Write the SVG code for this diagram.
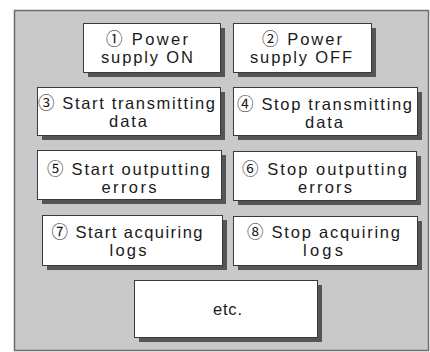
<svg xmlns="http://www.w3.org/2000/svg" width="430" height="352" viewBox="0 0 430 352">
  <defs>
    <style>
      .panel { fill: #c9c9c9; stroke: #6e6e6e; stroke-width: 1.5; }
      .shadow { fill: #555555; }
      .box { fill: #ffffff; stroke: #3a3a3a; stroke-width: 1; }
      .lbl { font-family: "Liberation Sans", "Noto Sans CJK JP", "DejaVu Sans", sans-serif; font-size: 16.5px; fill: #1a1a1a; text-anchor: middle; }
    </style>
  </defs>

  <rect width="430" height="352" fill="#ffffff"/>
  <rect class="panel" x="14.5" y="10.5" width="414" height="340"/>

  <g id="power-on">
    <rect class="shadow" x="88" y="28" width="137" height="49"/>
    <rect class="box" x="83.5" y="23.5" width="137" height="49"/>
    <text class="lbl" x="147" y="45" textLength="82" lengthAdjust="spacing">① Power</text>
    <text class="lbl" x="147" y="63" textLength="92" lengthAdjust="spacing">supply ON</text>
  </g>

  <g id="power-off">
    <rect class="shadow" x="238" y="28" width="138" height="49"/>
    <rect class="box" x="233.5" y="23.5" width="138" height="49"/>
    <text class="lbl" x="302" y="45" textLength="80" lengthAdjust="spacing">② Power</text>
    <text class="lbl" x="301" y="63" textLength="102" lengthAdjust="spacing">supply OFF</text>
  </g>

  <g id="start-transmit">
    <rect class="shadow" x="42" y="92" width="183" height="48"/>
    <rect class="box" x="37.5" y="87.5" width="183" height="48"/>
    <text class="lbl" x="126.5" y="109" textLength="177" lengthAdjust="spacing">③ Start transmitting</text>
    <text class="lbl" x="128" y="127" textLength="38" lengthAdjust="spacing">data</text>
  </g>

  <g id="stop-transmit">
    <rect class="shadow" x="238" y="92" width="184" height="48"/>
    <rect class="box" x="233.5" y="87.5" width="184" height="48"/>
    <text class="lbl" x="324.5" y="110" textLength="175" lengthAdjust="spacing">④ Stop transmitting</text>
    <text class="lbl" x="324" y="128" textLength="38" lengthAdjust="spacing">data</text>
  </g>

  <g id="start-errors">
    <rect class="shadow" x="42" y="155" width="184" height="49"/>
    <rect class="box" x="37.5" y="150.5" width="184" height="49"/>
    <text class="lbl" x="128.5" y="175" textLength="163" lengthAdjust="spacing">⑤ Start outputting</text>
    <text class="lbl" x="129" y="193" textLength="55" lengthAdjust="spacing">errors</text>
  </g>

  <g id="stop-errors">
    <rect class="shadow" x="238" y="156" width="183" height="49"/>
    <rect class="box" x="233.5" y="151.5" width="183" height="49"/>
    <text class="lbl" x="324.5" y="175" textLength="165" lengthAdjust="spacing">⑥ Stop outputting</text>
    <text class="lbl" x="325" y="193" textLength="54" lengthAdjust="spacing">errors</text>
  </g>

  <g id="start-logs">
    <rect class="shadow" x="47" y="220" width="180" height="50"/>
    <rect class="box" x="42.5" y="215.5" width="180" height="50"/>
    <text class="lbl" x="127" y="238" textLength="151" lengthAdjust="spacing">⑦ Start acquiring</text>
    <text class="lbl" x="128" y="256" textLength="37" lengthAdjust="spacing">logs</text>
  </g>

  <g id="stop-logs">
    <rect class="shadow" x="238" y="221" width="184" height="49"/>
    <rect class="box" x="233.5" y="216.5" width="184" height="49"/>
    <text class="lbl" x="323.5" y="238" textLength="153" lengthAdjust="spacing">⑧ Stop acquiring</text>
    <text class="lbl" x="323" y="256" textLength="40" lengthAdjust="spacing">logs</text>
  </g>

  <g id="etc">
    <rect class="shadow" x="139" y="285" width="183" height="57"/>
    <rect class="box" x="134.5" y="280.5" width="183" height="57"/>
    <text class="lbl" x="227.5" y="315" textLength="29" lengthAdjust="spacing">etc.</text>
  </g>

  <g id="connectors"/>
</svg>
